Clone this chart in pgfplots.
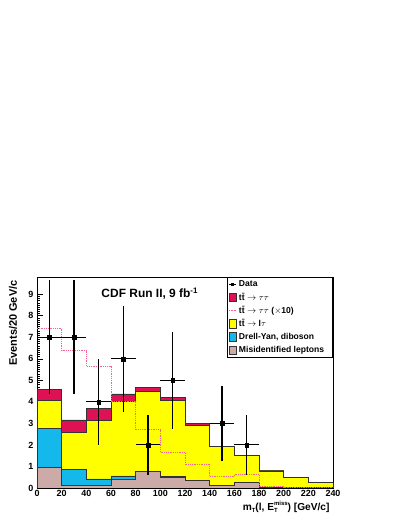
\documentclass[border=0pt]{standalone}
\usepackage{fontspec}
\setmainfont{Liberation Sans}
\usepackage{pgfplots}
\usepackage{pgfplotstable}
\pgfplotsset{compat=1.18}

\definecolor{ttcol}{RGB}{221,17,84}
\definecolor{ltcol}{RGB}{255,255,0}
\definecolor{dycol}{RGB}{20,184,235}
\definecolor{mscol}{RGB}{204,170,168}
\definecolor{t10col}{RGB}{250,100,140}

\pgfplotsset{
    boxlegend/.style={legend image code/.code={\draw[##1] (0bp,-4bp) rectangle (7bp,4.5bp);}},
    linelegend/.style={legend image code/.code={\draw[##1] (0bp,0bp) -- (7bp,0bp);}},
    datalegend/.style={legend image code/.code={\draw[##1] (0bp,0bp) -- (7bp,0bp) plot coordinates {(3.5bp,0bp)};}},
}

% cumulative stack heights per 20 GeV bin (last row repeats the last bin)
\pgfplotstableread{
x   misid dy   ltau tt   tt10
0   0.95  2.78 4.05 4.56 7.43
20  0.10  0.88 2.60 3.16 6.37
40  0.12  0.42 3.13 3.70 5.67
60  0.40  0.56 4.00 4.37 4.00
80  0.75  0.76 4.48 4.68 2.70
100 0.50  0.52 4.05 4.19 1.66
120 0.34  0.35 2.92 2.99 1.10
140 0.10  0.13 1.92 1.95 0.53
160 0.25  0.26 1.50 1.52 0.64
180 0.03  0.05 0.79 0.80 0.07
200 0.02  0.03 0.47 0.48 0.05
220 0.02  0.03 0.25 0.26 0.05
240 0.02  0.03 0.25 0.26 0.05
}\hist

\pgfplotstableread{
x   y  ex  ey
10  7  10  2.65
30  7  10  2.65
50  4  10  2.00
70  6  10  2.45
90  2  10  1.41
110 5  10  2.24
150 3  10  1.73
170 2  10  1.41
}\data

\newcommand\subfont{\fontsize{6}{6}\selectfont}

\begin{document}
\begin{tikzpicture}
\useasboundingbox (0,0) rectangle (399bp,516bp);
\begin{axis}[
    at={(37bp,28bp)}, anchor=south west,
    scale only axis,
    width=296bp, height=211bp,
    xmin=0, xmax=240, ymin=0, ymax=9.8,
    xtick={0,20,...,240},
    ytick={0,1,...,9},
    minor x tick num=4,
    minor y tick num=9,
    tick align=inside,
    xtick pos=bottom, ytick pos=left,
    major tick length=6bp, minor tick length=3bp,
    axis line style={line width=0.8bp},
    every tick/.style={black, line width=0.6bp},
    /pgf/number format/assume math mode=true,
    tick label style={font=\fontsize{9}{9}\selectfont\bfseries},
    xticklabel style={yshift=1bp},
    ylabel={Events/20 GeV/c},
    ylabel style={at={(axis description cs:-0.081,1)}, anchor=east,
        font=\fontsize{11}{11}\selectfont\bfseries},
    xlabel={m\raisebox{-2bp}{\subfont T}(l, E\rlap{\raisebox{-2bp}{\subfont T}}\raisebox{5.5bp}{\subfont miss}) [GeV/c]},
    xlabel style={at={(axis description cs:1,-0.09)}, anchor=east,
        font=\fontsize{10.2}{10.2}\selectfont\bfseries},
    legend style={
        at={(1,1)}, anchor=north east,
        draw=black, line width=0.6bp, fill=white,
        font=\fontsize{8.6}{8.6}\selectfont\bfseries,
        inner xsep=1.5bp, inner ysep=2.5bp,
        row sep=4bp,
        nodes={inner sep=0pt, text height=7bp, text depth=2bp},
        /tikz/every odd column/.append style={column sep=2.5bp},
    },
    legend cell align=left,
]

% stacked histograms, drawn from the total down
\addplot[const plot, fill=ttcol, draw=black!80, line width=0.8bp, forget plot]
    table[x=x, y=tt] {\hist} \closedcycle;
\addplot[const plot, fill=ltcol, draw=black!80, line width=0.8bp, forget plot]
    table[x=x, y=ltau] {\hist} \closedcycle;
\addplot[const plot, fill=dycol, draw=black!80, line width=0.8bp, forget plot]
    table[x=x, y=dy] {\hist} \closedcycle;
\addplot[const plot, fill=mscol, draw=black!80, line width=0.8bp, forget plot]
    table[x=x, y=misid] {\hist} \closedcycle;

% ttbar -> tautau scaled by 10
\addplot[const plot, t10col, densely dotted, line width=0.8bp, forget plot]
    table[x=x, y=tt10] {\hist};

% data
\addplot[only marks, mark=square*, mark size=1.9bp, black, forget plot,
    error bars/.cd, x dir=both, x explicit, y dir=both, y explicit,
    error mark=none, error bar style={line width=1.1bp, black}]
    table[x=x, y=y, x error=ex, y error=ey] {\data};

% legend entries
\addlegendimage{datalegend, black, line width=0.8bp, mark=square*, mark size=1.3bp}
\addlegendentry{Data}
\addlegendimage{boxlegend, fill=ttcol, draw=black!80, line width=0.5bp}
\addlegendentry{t\={t} $\rightarrow\tau\tau$}
\addlegendimage{linelegend, t10col, densely dotted, line width=0.6bp}
\addlegendentry{t\={t} $\rightarrow\tau\tau$ ($\times$10)}
\addlegendimage{boxlegend, fill=ltcol, draw=black!80, line width=0.5bp}
\addlegendentry{t\={t} $\rightarrow$ l$\tau$}
\addlegendimage{boxlegend, fill=dycol, draw=black!80, line width=0.5bp}
\addlegendentry{Drell-Yan, diboson}
\addlegendimage{boxlegend, fill=mscol, draw=black!80, line width=0.5bp}
\addlegendentry{Misidentified leptons\hspace*{7bp}}

\node[anchor=west, font=\fontsize{12}{12}\selectfont\bfseries]
    at (axis description cs:0.206,0.92) {CDF Run II, 9 fb\textsuperscript{-1}};

\end{axis}
\end{tikzpicture}
\end{document}
